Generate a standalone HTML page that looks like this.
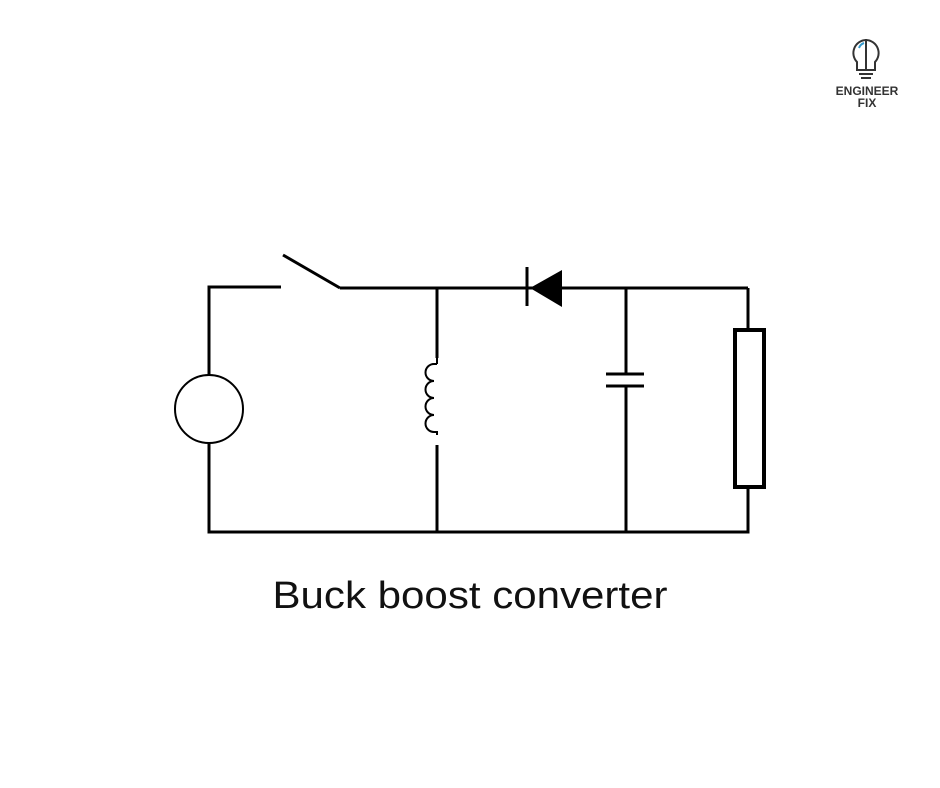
<!DOCTYPE html>
<html><head><style>html,body{margin:0;padding:0;background:#fff;width:940px;height:788px;overflow:hidden}</style></head>
<body>
<svg width="940" height="788" viewBox="0 0 940 788" xmlns="http://www.w3.org/2000/svg">
<g stroke="#000" stroke-width="3" fill="none">
<polyline points="281,287 209,287 209,375"/>
<circle cx="209" cy="409" r="34" stroke-width="2"/>
<polyline points="209,443 209,532 748,532 748,488"/>
<line x1="283" y1="255" x2="340" y2="288"/>
<line x1="340" y1="288" x2="748" y2="288"/>
<line x1="748" y1="288" x2="748" y2="330"/>
<line x1="437" y1="288" x2="437" y2="358"/>
<path d="M437,364 h-3 a8.5,8.5 0 0 0 0,17 a8.5,8.5 0 0 0 0,17 a8.5,8.5 0 0 0 0,17 a8.5,8.5 0 0 0 0,17 h3 v3" stroke-width="2"/>
<line x1="437" y1="358" x2="437" y2="364" stroke-width="2"/>
<line x1="437" y1="445" x2="437" y2="532"/>
<line x1="626" y1="288" x2="626" y2="374"/>
<line x1="626" y1="386" x2="626" y2="532"/>
<line x1="606" y1="374" x2="644" y2="374"/>
<line x1="606" y1="386" x2="644" y2="386"/>
<line x1="527" y1="267" x2="527" y2="306"/>
<rect x="735" y="330" width="29" height="157" stroke-width="4"/>
</g>
<polygon points="530,288 562,270 562,307" fill="#000"/>
<text x="470" y="608" text-anchor="middle" font-family="Liberation Sans, sans-serif" font-size="38" textLength="395" lengthAdjust="spacingAndGlyphs" fill="#111">Buck boost converter</text>
<g>
<path d="M866,40 a13,13 0 0 0 -9,22 v8 h9 z" fill="none" stroke="#333" stroke-width="2"/>
<path d="M866,40 a13,13 0 0 1 9,22 v8 h-9 z" fill="none" stroke="#333" stroke-width="2"/>
<path d="M859,48 a8,8 0 0 1 5,-5" stroke="#39c" stroke-width="2" fill="none"/>
<line x1="859" y1="74" x2="873" y2="74" stroke="#333" stroke-width="2"/>
<line x1="861" y1="78" x2="871" y2="78" stroke="#333" stroke-width="2"/>
<text x="867" y="95" text-anchor="middle" font-family="Liberation Sans, sans-serif" font-weight="bold" font-size="12" fill="#333">ENGINEER</text>
<text x="867" y="107" text-anchor="middle" font-family="Liberation Sans, sans-serif" font-weight="bold" font-size="12" fill="#333">FIX</text>
</g>
</svg>
</body></html>
